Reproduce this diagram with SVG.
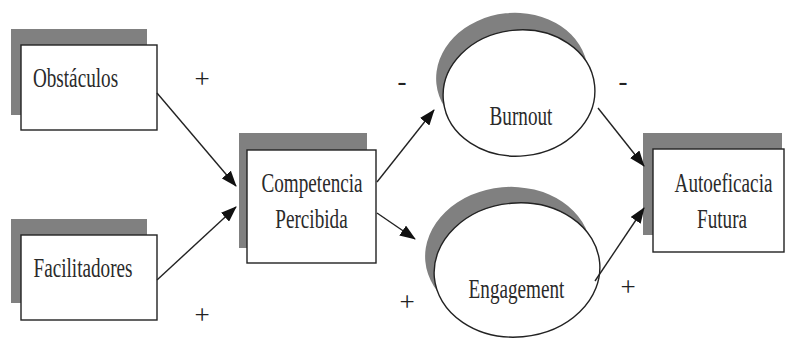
<svg xmlns="http://www.w3.org/2000/svg" width="785" height="340" viewBox="0 0 785 340">
<defs>
<style>
.sh{fill:#808080;stroke:none}
.box{fill:#fff;stroke:#222;stroke-width:1.4}
.lbl{font-family:"Liberation Serif","Times New Roman",serif;font-size:28px;fill:#2a2a2a;text-anchor:middle}
.sign{font-family:"Liberation Serif","Times New Roman",serif;font-size:27px;fill:#222;text-anchor:middle}
.con{stroke:#222;stroke-width:1.4;fill:none;marker-end:url(#ah)}
</style>
<marker id="ah" markerWidth="16" markerHeight="12" refX="15" refY="6" orient="auto" markerUnits="userSpaceOnUse">
<path d="M0,0 L16,6 L0,12 Z" fill="#111"/>
</marker>
</defs>
<rect width="785" height="340" fill="#fff"/>
<g id="obstaculos">
<rect class="sh" x="11" y="29" width="136" height="86"/>
<rect class="box" x="21" y="45" width="136" height="85"/>
<text class="lbl" transform="translate(75.5 87) scale(0.685 1)">Obstáculos</text>
</g>
<g id="facilitadores">
<rect class="sh" x="11" y="219" width="136" height="84"/>
<rect class="box" x="21" y="235" width="136" height="85"/>
<text class="lbl" transform="translate(83 277) scale(0.685 1)">Facilitadores</text>
</g>
<g id="competencia">
<rect class="sh" x="239" y="133" width="128" height="115"/>
<rect class="box" x="247" y="150" width="129" height="113"/>
<text class="lbl" transform="translate(312 192) scale(0.685 1)">Competencia</text>
<text class="lbl" transform="translate(311.5 228) scale(0.685 1)">Percibida</text>
</g>
<g id="burnout">
<ellipse class="sh" cx="512" cy="76" rx="76" ry="63" transform="rotate(-6 512 76)"/>
<ellipse class="box" cx="519" cy="93" rx="76" ry="63" transform="rotate(-6 519 93)"/>
<text class="lbl" transform="translate(521 125) scale(0.685 1)">Burnout</text>
</g>
<g id="engagement">
<ellipse class="sh" cx="508" cy="254" rx="83" ry="67" transform="rotate(-5 508 254)"/>
<ellipse class="box" cx="517" cy="270" rx="83" ry="67" transform="rotate(-5 517 270)"/>
<text class="lbl" transform="translate(516.5 298) scale(0.685 1)">Engagement</text>
</g>
<g id="autoeficacia">
<rect class="sh" x="643" y="133" width="139" height="102"/>
<rect class="box" x="653" y="149" width="131" height="103"/>
<text class="lbl" transform="translate(723.5 192) scale(0.685 1)">Autoeficacia</text>
<text class="lbl" transform="translate(722 228) scale(0.685 1)">Futura</text>
</g>
<g id="connectors">
<line class="con" x1="157" y1="93" x2="236" y2="186"/>
<line class="con" x1="157" y1="280" x2="236" y2="207"/>
<line class="con" x1="377" y1="182" x2="434" y2="110"/>
<line class="con" x1="377" y1="213" x2="415" y2="239"/>
<line class="con" x1="598" y1="108" x2="644" y2="166"/>
<line class="con" x1="595" y1="281" x2="644" y2="208"/>
</g>
<g id="signs">
<text class="sign" x="202" y="88">+</text>
<text class="sign" x="202" y="324">+</text>
<text class="sign" x="407" y="311">+</text>
<text class="sign" x="628" y="296">+</text>
<text class="sign" x="402" y="90">-</text>
<text class="sign" x="623" y="90">-</text>
</g>
</svg>
